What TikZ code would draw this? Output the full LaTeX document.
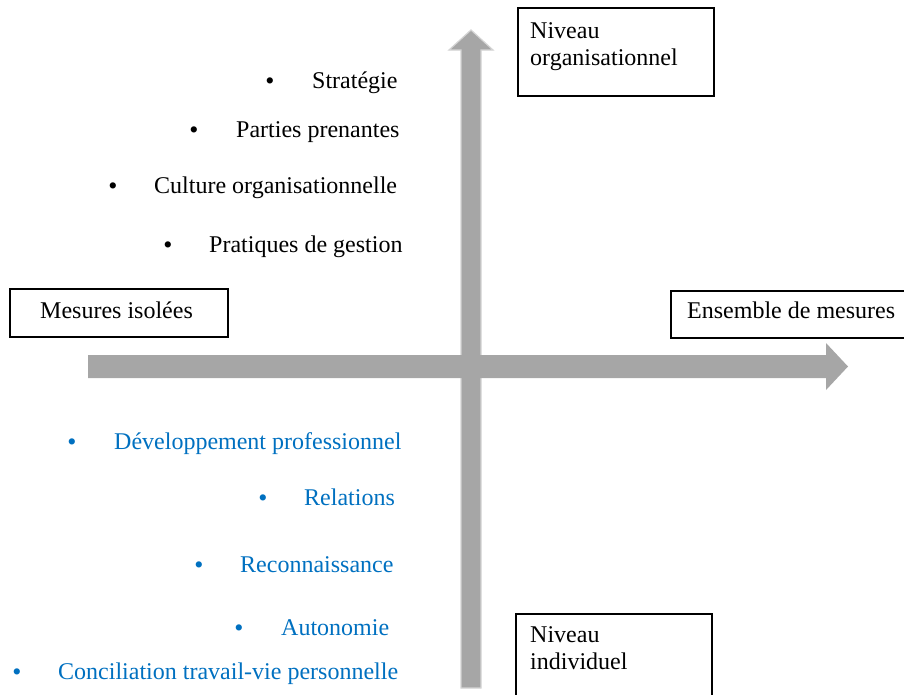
\documentclass[tikz,border=0pt]{standalone}
\usepackage{fontspec}
\setmainfont{Liberation Serif}
\definecolor{arrowgray}{HTML}{A6A6A6}
\definecolor{arrowedge}{HTML}{D4D4D4}
\definecolor{blueitem}{HTML}{0070C0}
\begin{document}
\begin{tikzpicture}[x=1pt,y=-1pt,
  every node/.style={font=\fontsize{24}{27}\selectfont, inner sep=0pt},
  framebox/.style={draw=black, line width=1.6pt, fill=white, anchor=north west},
  vertarrow/.style={fill=arrowgray, draw=arrowedge, line width=1.2pt},
  horarrow/.style={fill=arrowgray},
  item/.style={anchor=mid west},
  dot/.style={anchor=mid, font=\fontsize{26}{28}\selectfont},
  blue/.style={text=blueitem}]
\useasboundingbox (0,0) rectangle (904,694);
% vertical arrow
\draw[vertarrow] (461,688) -- (461,50) -- (449,50) -- (471,30) -- (493,50) -- (481,50) -- (481,688) -- cycle;
% horizontal arrow
\fill[horarrow] (88,355) -- (826,355) -- (826,343) -- (848,366.5) -- (826,390) -- (826,378) -- (88,378) -- cycle;
% boxes
\node[framebox, minimum width=196, minimum height=88] (org) at (517,7) {};
\node[anchor=north west, align=left] (orgt) at (530,22) {Niveau\\organisationnel};
\node[framebox, minimum width=196, minimum height=90] (ind) at (515,613) {};
\node[anchor=north west, align=left] (indt) at (530,626) {Niveau\\individuel};
\node[framebox, minimum width=218, minimum height=48] (iso) at (9,288) {};
\node[anchor=mid west] (isot) at (40,316) {Mesures isolées};
\node[framebox, minimum width=240, minimum height=47] (ens) at (670,290) {};
\node[anchor=mid west] (enst) at (687,316) {Ensemble de mesures};
% black items
\node[dot] (b1) at (270,87) {•};
\node[item] (t1) at (312,86) {Stratégie};
\node[dot] (b2) at (194,136) {•};
\node[item] (t2) at (236,135) {Parties prenantes};
\node[dot] (b3) at (113,192) {•};
\node[item] (t3) at (154,191) {Culture organisationnelle};
\node[dot] (b4) at (168,251) {•};
\node[item] (t4) at (209,250) {Pratiques de gestion};
% blue items
\node[dot, blue] (c1) at (72,448) {•};
\node[item, blue] (u1) at (114,447) {Développement professionnel};
\node[dot, blue] (c2) at (263,504) {•};
\node[item, blue] (u2) at (304,503) {Relations};
\node[dot, blue] (c3) at (199,571) {•};
\node[item, blue] (u3) at (240,570) {Reconnaissance};
\node[dot, blue] (c4) at (239,634) {•};
\node[item, blue] (u4) at (281,633) {Autonomie};
\node[dot, blue] (c5) at (17,678) {•};
\node[item, blue] (u5) at (58,677) {Conciliation travail-vie personnelle};
\end{tikzpicture}
\end{document}
